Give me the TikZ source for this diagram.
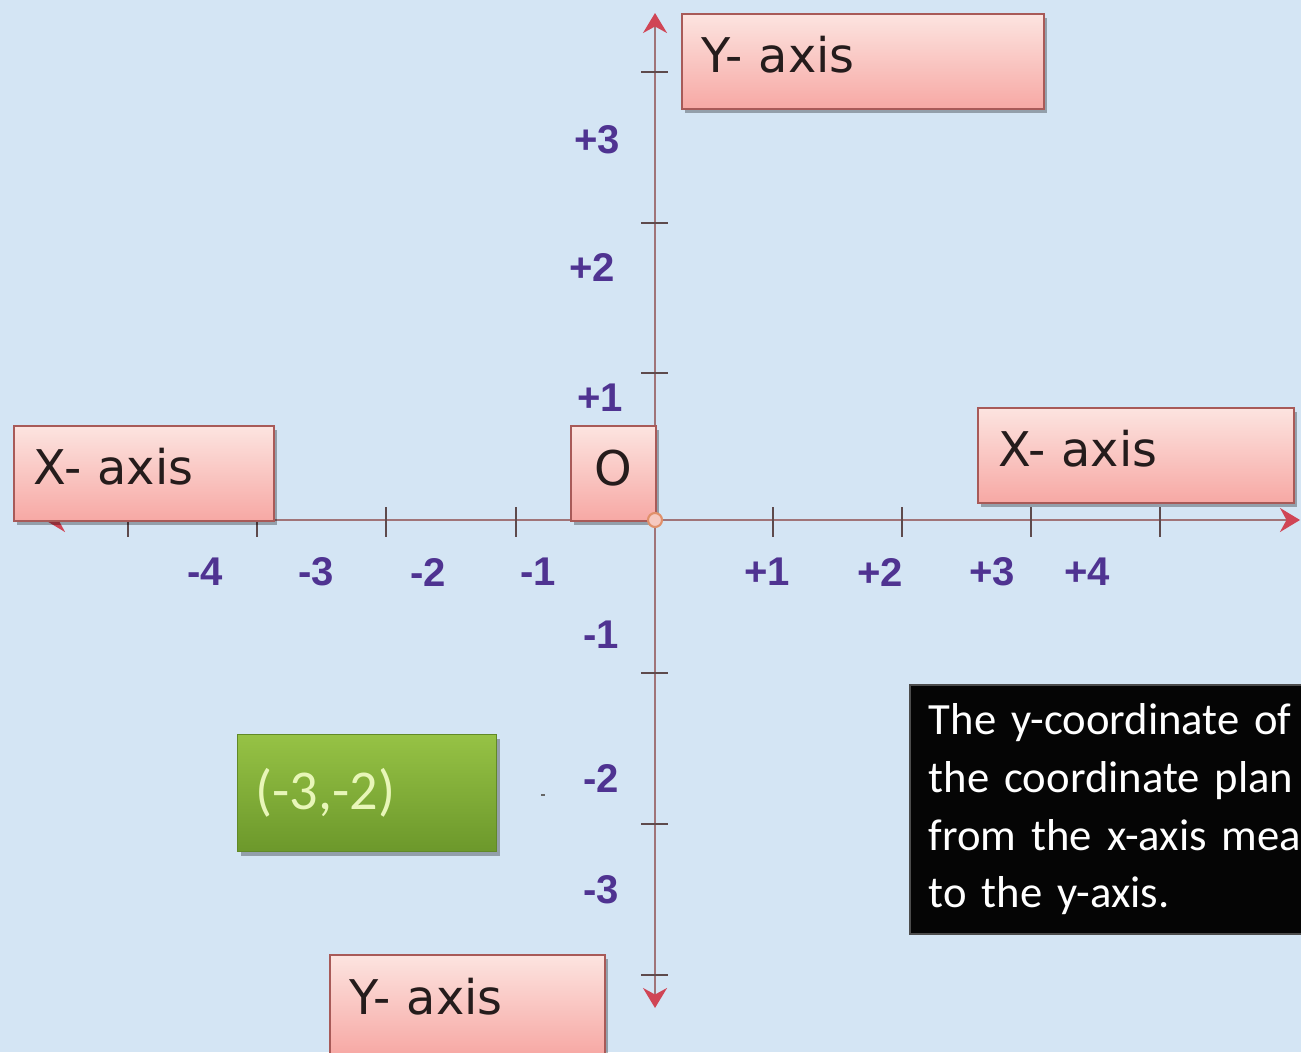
\documentclass[tikz,border=0pt]{standalone}
\usepackage{fontspec}
\setmainfont{DejaVu Sans}
\newfontfamily\numfont{Liberation Sans}
\newfontfamily\calfont{Carlito}
\usetikzlibrary{arrows.meta,shadows}
\definecolor{bgblue}{HTML}{D4E5F4}
\definecolor{axiscol}{HTML}{A07478}
\definecolor{tickcol}{HTML}{5E4A4C}
\definecolor{arrowred}{HTML}{D04555}
\definecolor{numpurple}{HTML}{4F3391}
\definecolor{pinktop}{HTML}{FCE4E0}
\definecolor{pinkbot}{HTML}{F7A8A4}
\definecolor{pinkborder}{HTML}{A85A58}
\definecolor{textdark}{HTML}{251C1C}
\definecolor{greentop}{HTML}{96C245}
\definecolor{greenbot}{HTML}{6C982B}
\definecolor{greentext}{HTML}{E8F6B8}
\definecolor{origfill}{HTML}{F6C9C0}
\definecolor{origdraw}{HTML}{E0906A}
\newcommand\liftup[2]{\raisebox{#1}[\height][\depth]{#2}}
\tikzset{
  redtip/.tip={Stealth[length=0.2cm,width=0.24cm,color=arrowred]},
  axisline/.style={draw=axiscol, line width=0.6pt},
  tickline/.style={draw=tickcol, line width=0.55pt},
  numlabel/.style={font=\numfont\bfseries\fontsize{11.4}{13}\selectfont, text=numpurple, inner sep=0pt},
  boxshadow/.style={drop shadow={shadow xshift=0.03cm, shadow yshift=-0.04cm, opacity=0.3, fill=black}},
  pinkbox/.style={draw=pinkborder, line width=0.55pt, top color=pinktop, bottom color=pinkbot,
    boxshadow, inner xsep=0.2cm, inner ysep=0pt, align=left, anchor=north west,
    font=\fontsize{13.6}{16}\selectfont, text=textdark, minimum height=0.95cm},
  greenbox/.style={draw=greenbot!90!black, line width=0.3pt, top color=greentop, bottom color=greenbot,
    boxshadow, inner xsep=0.18cm, inner ysep=0pt, align=left, anchor=north west,
    font=\calfont\fontsize{16}{19}\selectfont, text=greentext, minimum height=1.17cm},
  blackbox/.style={draw=black!70, line width=0.5pt, fill=black!98, inner xsep=0.19cm, inner ysep=0pt,
    align=left, anchor=north west, font=\calfont\fontsize{12.7}{16.4}\selectfont, text=white,
    minimum height=2.49cm}
}
\begin{document}
\begin{tikzpicture}[x=0.01cm,y=-0.01cm]
\useasboundingbox (0,0) rectangle (1301,1052);
\fill[bgblue] (0,0) rectangle (1301,1052);
\begin{scope}
\clip (0,0) rectangle (1301,1052);
% axes
\coordinate (xlft) at (45,520);
\coordinate (xrgt) at (1300,520);
\coordinate (ytop) at (655,13);
\coordinate (ybot) at (655,1008);
\coordinate (orig) at (655,520);
\draw[axisline, redtip-redtip] (xlft) -- (xrgt);
\draw[axisline, redtip-redtip] (ybot) -- (ytop);
% ticks
\foreach \x in {128,257,386,516,773,902,1031,1160}
  \draw[tickline] (\x,507) -- (\x,537);
\foreach \y in {72,223,373,673,824,975}
  \draw[tickline] (641,\y) -- (668,\y);
% number labels
\foreach \t/\x/\n in {-4/205/a,-3/316/b,-2/428/c,-1/538/d,+1/767/e,+2/880/f,+3/992/g,+4/1087/h}
  \node[numlabel] (nx\n) at (\x,572) {\t};
\foreach \t/\x/\y/\n in {+3/597/140/a,+2/592/268/b,+1/600/398/c,-1/601/635/d,-2/601/778/e,-3/601/890/f}
  \node[numlabel] (ny\n) at (\x,\y) {\t};
% boxes
\node[pinkbox, text width=2.2cm] (xaxl) at (13,425) {\liftup{0.07cm}{X- axis}};
\node[pinkbox, text width=3.22cm] (yaxt) at (681,13) {\liftup{0.07cm}{Y- axis}};
\node[pinkbox, text width=2.76cm] (xaxr) at (977,407) {\liftup{0.07cm}{X- axis}};
\node[pinkbox, text width=2.35cm, minimum height=1.0cm] (yaxb) at (329,954) {\liftup{0.08cm}{Y- axis}};
\node[pinkbox, align=center, inner xsep=0pt, minimum width=0.85cm] (obox) at (570,425) {\liftup{0.05cm}{O}};
\draw[fill=origfill, draw=origdraw, line width=0.6pt] (orig) circle[radius=0.07cm];
\node[greenbox, text width=2.23cm] (pt) at (237,734) {(-3,-2)};
\node[blackbox, text width=4.6cm] (note) at (909,684) {The y-coordinate of\\the coordinate plan\\from the x-axis mea\\to the y-axis.};
\draw[black!60, line width=0.5pt] (541,795) -- (545,795);
\end{scope}
\end{tikzpicture}
\end{document}
